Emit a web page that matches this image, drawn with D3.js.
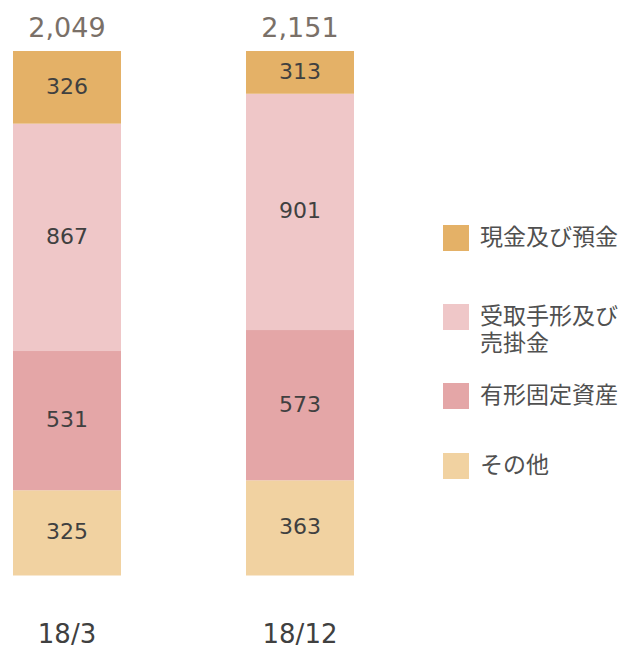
<!DOCTYPE html>
<html lang="ja">
<head>
<meta charset="UTF-8">
<title>資産構成</title>
<script src="https://d3js.org/d3.v7.min.js"></script>
<style>
body { margin: 0; background: #fff; }
.seg-label { font-family: "DejaVu Sans", Verdana, sans-serif; font-size: 22px; fill: #404040; }
.total { font-family: "DejaVu Sans", Verdana, sans-serif; font-size: 27px; fill: #7a7068; }
.cat { font-family: "DejaVu Sans", Verdana, sans-serif; font-size: 26px; fill: #404040; }
.legend text { font-family: "Noto Sans CJK JP", sans-serif; font-size: 23px; fill: #505050; }
</style>
</head>
<body>
<svg width="627" height="649"></svg>
<script>
// data
const categories = ["18/3", "18/12"];
const seriesNames = ["その他", "有形固定資産", "受取手形及び売掛金", "現金及び預金"];
const sonota = [325, 363];
const yukei = [531, 573];
const uketori = [867, 901];
const genkin = [326, 313];
const totals = ["2,049", "2,151"];
const colors = ["#f1d2a1", "#e4a6a7", "#efc7c8", "#e4b167"];

// legend order (top to bottom) and line breaks
const legendItems = [
    {lines: ["現金及び預金"], color: colors[3]},
    {lines: ["受取手形及び", "売掛金"], color: colors[2]},
    {lines: ["有形固定資産"], color: colors[1]},
    {lines: ["その他"], color: colors[0]}
];

const table = categories.map((c, i) => ({
    cat: c,
    "その他": sonota[i],
    "有形固定資産": yukei[i],
    "受取手形及び売掛金": uketori[i],
    "現金及び預金": genkin[i]
}));

const svg = d3.select("svg");

const x = d3.scaleBand()
    .domain(categories)
    .range([13, 354])
    .paddingInner(125 / 233)
    .paddingOuter(0);

// axis is cut at 2,000 so the top segments get clipped
const y = d3.scaleLinear()
    .domain([0, 2000])
    .range([575.5, 51])
    .clamp(true);

const stacked = d3.stack().keys(seriesNames)(table);

const layers = svg.selectAll(".layer")
    .data(stacked)
    .enter().append("g")
    .attr("class", "layer")
    .attr("fill", (d, i) => colors[i]);

layers.selectAll("rect")
    .data(d => d)
    .enter().append("rect")
    .attr("x", d => x(d.data.cat))
    .attr("y", d => y(d[1]))
    .attr("width", x.bandwidth())
    .attr("height", d => y(d[0]) - y(d[1]));

layers.selectAll("text")
    .data(d => d)
    .enter().append("text")
    .attr("class", "seg-label")
    .attr("x", d => x(d.data.cat) + x.bandwidth() / 2)
    .attr("y", d => (y(d[0]) + y(d[1])) / 2 - 1)
    .attr("text-anchor", "middle")
    .attr("dominant-baseline", "central")
    .text(d => d[1] - d[0]);

// totals
svg.selectAll(".total")
    .data(categories)
    .enter().append("text")
    .attr("class", "total")
    .attr("x", d => x(d) + x.bandwidth() / 2)
    .attr("y", 37)
    .attr("text-anchor", "middle")
    .text((d, i) => totals[i]);

// category labels
svg.selectAll(".cat")
    .data(categories)
    .enter().append("text")
    .attr("class", "cat")
    .attr("x", d => x(d) + x.bandwidth() / 2)
    .attr("y", 643)
    .attr("text-anchor", "middle")
    .text(d => d);

// legend
const legendY = [225, 304, 383, 453];
const legend = svg.append("g").attr("class", "legend");
const item = legend.selectAll("g")
    .data(legendItems)
    .enter().append("g")
    .attr("transform", (d, i) => `translate(443,${legendY[i]})`);
item.append("rect")
    .attr("width", 26)
    .attr("height", 26)
    .attr("fill", d => d.color);
item.each(function(d) {
    const g = d3.select(this);
    d.lines.forEach((l, j) => {
        g.append("text")
            .attr("x", 37)
            .attr("y", 10 + j * 27)
            .attr("dominant-baseline", "central")
            .text(l);
    });
});
</script>
</body>
</html>
